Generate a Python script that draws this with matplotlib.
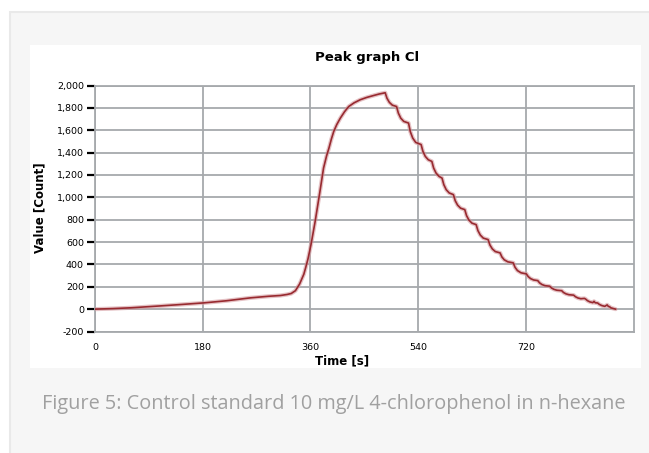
import matplotlib
matplotlib.use("Agg")
import matplotlib.pyplot as plt
from matplotlib.patches import Rectangle

# ---- data ----
time_s = [0, 30, 60, 104, 140, 182, 220, 260, 290, 310, 321, 328, 335, 342, 349, 352, 356,
          361, 368, 376, 382, 387, 391, 395, 399, 404, 410, 417, 424, 433, 443, 454, 466, 475, 485,
          488, 492, 497, 504,
          507, 511, 516, 524,
          527, 531, 536, 545,
          548, 552, 557, 563,
          566, 570, 575, 580,
          583, 587, 592, 599,
          602, 606, 611, 618,
          621, 625, 630, 637,
          640, 644, 649, 657,
          660, 664, 669, 677,
          680, 684, 690, 699,
          702, 706, 712, 721,
          724, 728, 733, 740,
          743, 747, 752, 760,
          763, 767, 772, 780,
          783, 787, 792, 800,
          803, 807, 812, 818, 820,
          823, 827, 832, 834, 836, 840,
          843, 847, 852, 856, 858, 860,
          862, 866, 870]
value_count = [0, 5, 12, 27, 40, 56, 75, 101, 115, 122, 131, 140, 165, 225, 312, 369, 450,
               577, 786, 1054, 1262, 1370, 1440, 1520, 1589, 1650, 1708, 1765, 1812, 1845, 1872, 1893, 1911, 1924, 1935,
               1886, 1849, 1824, 1812,
               1753, 1708, 1679, 1664,
               1587, 1530, 1491, 1472,
               1412, 1366, 1336, 1321,
               1261, 1217, 1187, 1172,
               1113, 1068, 1039, 1024,
               970, 930, 903, 890,
               836, 796, 769, 756,
               702, 662, 635, 622,
               574, 539, 515, 503,
               467, 441, 423, 414,
               374, 345, 325, 315,
               291, 273, 261, 255,
               235, 220, 210, 205,
               189, 177, 169, 165,
               149, 137, 129, 125,
               111, 100, 93, 96, 90,
               76, 65, 58, 70, 57, 55,
               42, 32, 25, 38, 24, 22,
               12, 6, 0]

x_ticks = [0, 180, 360, 540, 720]
y_ticks = [-200, 0, 200, 400, 600, 800, 1000, 1200, 1400, 1600, 1800, 2000]
y_tick_labels = ["-200", "0", "200", "400", "600", "800", "1,000", "1,200",
                 "1,400", "1,600", "1,800", "2,000"]

title = "Peak graph Cl"
x_label = "Time [s]"
y_label = "Value [Count]"
caption = "Figure 5: Control standard 10 mg/L 4-chlorophenol in n-hexane"

# ---- figure ----
W, H = 649, 453
fig = plt.figure(figsize=(W / 100, H / 100), dpi=100)
fig.patch.set_facecolor("white")

def frect(x0, y0, x1, y1, **kw):
    # pixel coords (top-left origin) -> figure coords
    return Rectangle((x0 / W, 1 - y1 / H), (x1 - x0) / W, (y1 - y0) / H,
                     transform=fig.transFigure, **kw)

fig.patches.append(frect(10, 12, W + 5, H + 5, facecolor="#f6f6f6",
                         edgecolor="#e9e9e9", linewidth=1.5, zorder=0))
fig.patches.append(frect(30, 45, 641, 368, facecolor="white",
                         edgecolor="none", zorder=1))

ax = fig.add_axes([95 / W, 1 - 331.5 / H, (633.5 - 95) / W, (331.5 - 85.5) / H])
ax.set_facecolor("white")
ax.set_zorder(2)

grid_col = "#a6a9ac"
ax.set_xlim(0, 900)
ax.set_ylim(-200, 2000)
ax.set_xticks(x_ticks)
ax.set_yticks(y_ticks)
ax.set_yticklabels(y_tick_labels)
ax.grid(True, color=grid_col, linewidth=1.3)
ax.set_axisbelow(True)
for s in ax.spines.values():
    s.set_color(grid_col)
    s.set_linewidth(1.3)
ax.tick_params(axis="y", length=6, width=1.6, color="black", labelsize=6.8, pad=2)
ax.tick_params(axis="x", length=0, labelsize=6.8, pad=8)

ax.plot(time_s, value_count, color="#d49a9f", linewidth=3.0, alpha=0.6,
        solid_capstyle="round", solid_joinstyle="round", zorder=3)
ax.plot(time_s, value_count, color="#982a30", linewidth=1.2,
        solid_joinstyle="round", zorder=4)

fig.text((95 + 633.5) / 2 / W + 0.005, 1 - 58 / H, title, ha="center", va="center",
         fontsize=9.5, fontweight="bold")
fig.text(40 / W, 1 - 208 / H, y_label, ha="center", va="center", rotation=90,
         fontsize=8.5, fontweight="bold")
fig.text(342 / W, 1 - 361 / H, x_label, ha="center", va="center",
         fontsize=8.5, fontweight="bold")
fig.text(42 / W, 1 - 404 / H, caption, ha="left", va="center",
         fontsize=14.3, color="#a0a0a0", family="Open Sans")

fig.savefig("out.png", dpi=100, facecolor=fig.get_facecolor())
